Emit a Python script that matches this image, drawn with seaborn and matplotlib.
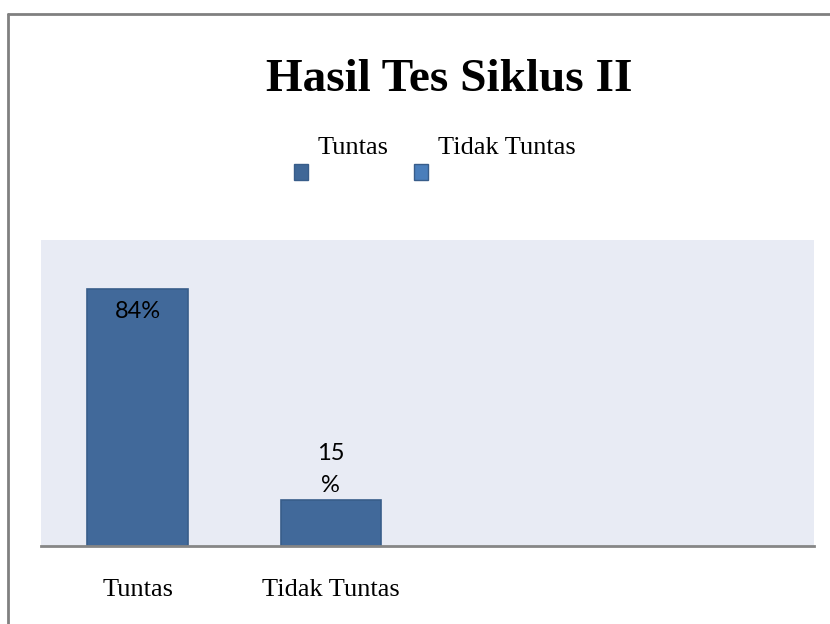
import numpy as np
import pandas as pd
import matplotlib.pyplot as plt
import seaborn as sns
from matplotlib.lines import Line2D
from matplotlib.patches import Rectangle

# data
categories = ["Tuntas", "Tidak Tuntas"]
values = [84, 15]
value_labels = ["84%", "15\n%"]
legend_labels = ["Tuntas", "Tidak Tuntas"]
legend_colors = ["#3F6797", "#4A7EBB"]

sns.set_theme(style="white")
plt.rcParams["font.family"] = ["Liberation Serif", "DejaVu Serif"]
plt.rcParams["text.color"] = "black"
plt.rcParams["xtick.color"] = "black"

BAR = "#41699A"
EDGE = "#385D8A"

fig = plt.figure(figsize=(8.3, 6.24), dpi=100)
fig.patch.set_facecolor("white")
ax = fig.add_axes([41 / 830, 78 / 624, 773 / 830, 306 / 624])
ax.set_facecolor("#E8EBF4")

df = pd.DataFrame({"cat": categories, "val": values})
sns.barplot(data=df, x="cat", y="val", order=categories, color=BAR,
            saturation=1, width=0.52, edgecolor=EDGE, linewidth=1.2, ax=ax)
ax.set_xlim(-0.5, 3.5)
ax.set_ylim(0, 100)
ax.set_xlabel("")
ax.set_ylabel("")
ax.set_yticks([])
ax.tick_params(axis="x", length=0, pad=24, labelsize=19, labelcolor="black")
for s in ["top", "left", "right"]:
    ax.spines[s].set_visible(False)
ax.spines["bottom"].set_color("#868686")
ax.spines["bottom"].set_linewidth(2)

# data labels (Calibri-like sans)
ax.annotate(value_labels[0], (0, values[0]), xytext=(0, -16), textcoords="offset points",
            ha="center", va="center", fontsize=17, family=["Lato", "DejaVu Sans"],
            color="black")
ax.annotate(value_labels[1], (1, values[1]), xytext=(0, 22), textcoords="offset points",
            ha="center", va="center", fontsize=17, family=["Lato", "DejaVu Sans"],
            linespacing=1.65, color="black")

# title
fig.text(449 / 830, 1 - 80 / 624, "Hasil Tes Siklus II", ha="center", va="center",
         fontsize=34, fontweight="bold", color="black")

# legend: label above-right of square
sq_x = [294, 414]
for x0, lab, col in zip(sq_x, legend_labels, legend_colors):
    fig.patches.append(Rectangle((x0 / 830, 1 - 180 / 624), 14 / 830, 16 / 624,
                                 transform=fig.transFigure, facecolor=col,
                                 edgecolor=EDGE, linewidth=1))
    fig.text((x0 + 24) / 830, 1 - 148 / 624, lab, ha="left", va="center",
             fontsize=19, color="black")

# chart border (top + left)
fig.add_artist(Line2D([8 / 830, 1], [1 - 14 / 624] * 2, color="#808080", lw=2,
                      transform=fig.transFigure))
fig.add_artist(Line2D([8 / 830] * 2, [0, 1 - 14 / 624], color="#808080", lw=2,
                      transform=fig.transFigure))

fig.savefig("out.png", dpi=100)
